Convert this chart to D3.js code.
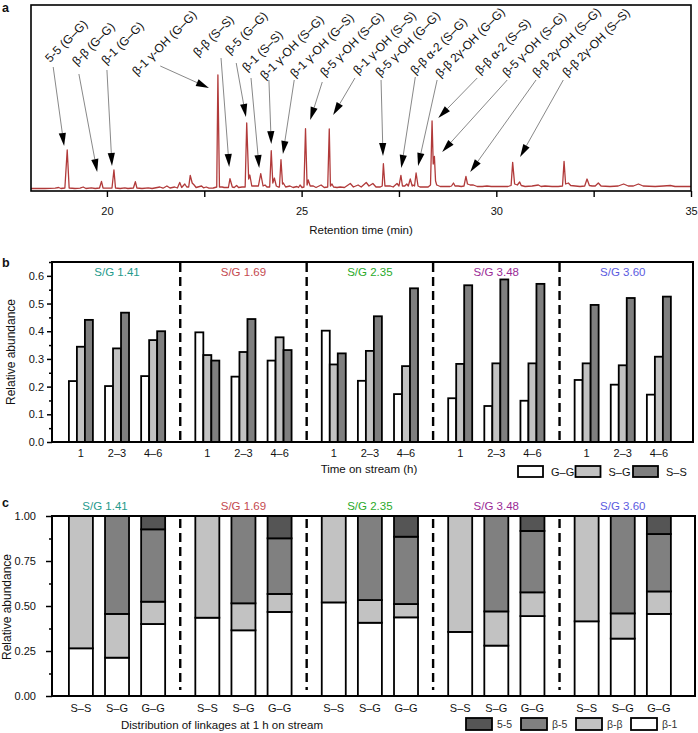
<!DOCTYPE html>
<html><head><meta charset="utf-8">
<script src="https://cdn.jsdelivr.net/npm/d3@7"></script>
<style>
body{margin:0;background:#fff}
text{font-family:"Liberation Sans",Arial,Helvetica,sans-serif;fill:#111}
</style>
</head><body>
<svg id="chart" width="698" height="733"></svg>
<script>
// ---------------- DATA ----------------
// Panel a: chromatogram [retention time (min), intensity]
const trace = [
[18.00,0.5],[18.41,0.5],[18.67,0.8],[18.76,1.5],[18.82,0.5],
[18.92,1],[18.98,39],[19.03,1],
[19.18,0.5],[19.31,0.8],[19.39,2],[19.46,0.5],[19.60,1.2],[19.70,0.5],
[19.81,1],[19.86,7.6],[19.90,1],
[20.03,0.8],[20.13,1],[20.18,19],[20.22,1],
[20.34,0.5],[20.46,1.2],[20.54,0.5],[20.68,1],[20.73,7.3],[20.77,1],
[20.90,0.5],[21.06,1.2],[21.16,0.5],[21.36,2],[21.44,0.8],[21.54,3],[21.62,1],[21.74,2],[21.81,1],[21.87,6.6],[21.92,1.5],[22.00,5],[22.05,2],[22.10,2],[22.14,13.6],[22.19,6],[22.24,4],[22.29,1.5],[22.43,3],[22.48,1.2],[22.55,2],[22.62,0.8],[22.73,1],
[22.82,2],[22.85,114],[22.89,2],[22.96,2],[23.01,1.5],
[23.12,1.5],[23.16,10.3],[23.22,2],[23.27,1.5],[23.33,3.5],[23.38,1.5],[23.47,2],[23.55,2],
[23.59,66],[23.64,10],[23.67,14],[23.72,3],[23.78,3],
[23.89,3],[23.95,15.3],[24.01,3],[24.06,4],[24.11,2],
[24.18,2],[24.22,38.3],[24.26,6],[24.30,11],[24.35,3],[24.40,2],
[24.43,2],[24.47,29.3],[24.51,5],[24.53,6],[24.59,2],
[24.70,3],[24.78,1.5],[24.88,2.5],[24.92,1.5],[24.96,4],[25.01,1.5],
[25.06,2],[25.10,60.3],[25.14,4],[25.17,9],[25.22,3],[25.30,3],[25.37,1.5],[25.50,4],[25.58,1.5],[25.67,2],
[25.71,60],[25.74,3],[25.78,5],[25.82,2],[25.91,1.5],[25.99,2],[26.10,1.5],[26.25,5.5],[26.33,2],[26.45,4],[26.53,2],[26.66,6.5],[26.73,3],[26.83,5.5],[26.91,2],[27.02,2],
[27.07,3],[27.10,25.3],[27.14,3],[27.28,3],[27.35,2],[27.45,5.5],[27.50,3],
[27.55,13.6],[27.59,3],[27.65,3],[27.70,5],[27.74,3],[27.79,10],[27.84,3],[27.86,4],[27.90,3],
[27.94,16],[27.99,3],[28.04,2],[28.12,2],[28.25,2],[28.31,4],
[28.35,68],[28.38,25],[28.41,32.6],[28.44,8],[28.47,4],[28.56,2.5],[28.69,2.5],[28.81,2.5],[28.85,3],[28.90,6],[28.94,3],[29.02,3],[29.10,2.5],[29.17,3],
[29.22,12.6],[29.26,5],[29.33,4],[29.41,4],[29.51,2.5],[29.64,2.5],[29.76,3],[29.87,2.5],[30.10,2.5],[30.30,2.5],[30.38,3.5],
[30.42,26.6],[30.47,5],[30.54,4],[30.60,7],[30.64,3.5],[30.74,2.5],[30.92,3],[31.08,4],[31.15,2.5],[31.25,3],[31.43,2.5],[31.59,2.5],[31.70,3],
[31.74,27.6],[31.78,5],[31.85,6],[31.91,3.5],[32.03,3],[32.15,2.5],[32.27,3],
[32.33,10],[32.39,3.5],[32.46,3],[32.54,3],[32.62,6],[32.69,3],[32.92,2.5],[33.13,3],[33.27,5],[33.39,3],[33.52,3],[33.65,5],[33.77,3],[34.08,2.5],[34.29,3],[34.47,3.5],[34.59,2.5],[35.00,2.5]
];
const retentionTicks = [20,22.5,25,27.5,30,32.5,35];
const peakLabels = ["5-5 (G–G)","β-β (G–G)","β-1 (G–G)","β-1 γ-OH (G–G)","β-β (S–S)","β-5 (G–G)","β-1 (S–S)",
  "β-1 γ-OH (S–G)","β-1 γ-OH (G–S)","β-5 γ-OH (S–G)","β-1 γ-OH (S–S)","β-5 γ-OH (G–G)","β-β α-2 (S–G)",
  "β-β 2γ-OH (G–G)","β-β α-2 (S–S)","β-5 γ-OH (S–G)","β-β 2γ-OH (S–G)","β-β 2γ-OH (S–S)"];
// annotation anchors in data units [time, intensity]
const labelAnchor = [[18.54,126],[19.23,123],[19.98,124],[20.77,113],[22.34,132],[23.16,134],[23.60,117],[24.06,109],[24.83,111],[25.60,112],[26.45,114],[27.02,112],[27.92,114],[28.56,111],[29.58,114],[30.28,112],[31.05,112],[31.82,112]];
const leaderStart = [[18.62,122],[19.28,115],[20.00,119],[21.37,123],[22.93,131],[23.32,126],[23.70,111],[24.16,109],[24.81,109],[25.53,107],[26.37,111],[27.04,109],[27.92,112],[28.48,109],[29.51,111],[30.28,109],[31.02,109],[31.72,109]];
const arrowTip = [[18.90,43],[19.75,17],[20.13,23],[22.62,101],[23.14,22],[23.57,72],[23.91,21],[24.22,45],[24.52,35],[25.22,69],[25.81,74],[27.09,33],[27.56,21],[27.99,23],[28.51,71],[28.61,37],[29.33,17],[30.61,32]];

// Panels b, c
const groups = ["S/G 1.41","S/G 1.69","S/G 2.35","S/G 3.48","S/G 3.60"];
const groupColors = ["#1f9a8c","#c44a50","#2aaa2a","#9a2a96","#5b5be0"];
const streamTimes = ["1","2–3","4–6"];
const dimers = ["G–G","S–G","S–S"];
const dimerFill = ["#ffffff","#c2c2c2","#7f7f7f"];
const abundGG = [[0.220,0.202,0.238],[0.396,0.236,0.294],[0.402,0.221,0.173],[0.158,0.130,0.149],[0.224,0.207,0.171]];
const abundSG = [[0.344,0.338,0.368],[0.314,0.325,0.378],[0.280,0.329,0.274],[0.282,0.284,0.284],[0.284,0.277,0.308]];
const abundSS = [[0.441,0.467,0.400],[0.294,0.444,0.332],[0.320,0.454,0.555],[0.566,0.587,0.571],[0.495,0.520,0.525]];
const bTicks = [0,0.1,0.2,0.3,0.4,0.5,0.6];

const pairs = ["S–S","S–G","G–G"];
const linkages = ["β-1","β-β","β-5","5-5"];
const linkFill = ["#ffffff","#c2c2c2","#808080","#555555"];
const linkB1 = [[0.265,0.213,0.400],[0.435,0.365,0.467],[0.520,0.407,0.437],[0.356,0.280,0.444],[0.415,0.319,0.456]];
const linkBB = [[0.735,0.243,0.124],[0.565,0.150,0.100],[0.480,0.126,0.074],[0.644,0.190,0.132],[0.585,0.140,0.125]];
const linkB5 = [[0,0.544,0.402],[0,0.485,0.309],[0,0.467,0.374],[0,0.530,0.341],[0,0.541,0.319]];
const link55 = [[0,0,0.074],[0,0,0.124],[0,0,0.115],[0,0,0.083],[0,0,0.100]];
const cTicks = [0,0.25,0.5,0.75,1];

// ---------------- DRAW ----------------
const svg = d3.select("#chart");
const FS = 11;

// ===== Panel a =====
const xa = d3.scaleLinear().domain([18.05,35]).range([31,691]);
const ya = d3.scaleLinear().domain([-2,184]).range([191,5]);
svg.append("clipPath").attr("id","clipA").append("rect")
  .attr("x",xa.range()[0]).attr("y",5).attr("width",660).attr("height",186);
svg.append("path").datum(trace)
  .attr("clip-path","url(#clipA)")
  .attr("fill","none").attr("stroke","#b13a3a").attr("stroke-width",1.3).attr("stroke-linejoin","round")
  .attr("d", d3.line().x(d=>xa(d[0])).y(d=>ya(d[1])));
svg.append("rect").attr("x",31).attr("y",5).attr("width",660).attr("height",186)
  .attr("fill","none").attr("stroke","#000").attr("stroke-width",1.6);
const axA = svg.append("g").attr("transform","translate(0,191)")
  .call(d3.axisBottom(xa).tickValues(retentionTicks).tickFormat(d=> d%5===0 ? d : "").tickSize(6).tickPadding(10));
axA.select(".domain").remove();
axA.selectAll("line").attr("stroke","#000").attr("stroke-width",1.4);
axA.selectAll("text").attr("font-size",FS).attr("fill","#111").style("font-family",'"Liberation Sans",Arial,sans-serif');
svg.append("text").attr("x",361).attr("y",234).attr("text-anchor","middle").attr("font-size",11.5).text("Retention time (min)");
svg.append("text").attr("x",2).attr("y",12).attr("font-size",12.5).attr("font-weight","bold").text("a");

// annotations
const ann = svg.append("g");
peakLabels.forEach((lab,i)=>{
  const sx = xa(leaderStart[i][0]), sy = ya(leaderStart[i][1]);
  const tx = xa(arrowTip[i][0]), ty = ya(arrowTip[i][1]);
  const dx = tx-sx, dy = ty-sy, L = Math.hypot(dx,dy);
  const ux = dx/L, uy = dy/L, nx = -uy, ny = ux;
  const hl = 13, hw = 3.6;
  const bx = tx-ux*hl, by = ty-uy*hl;
  ann.append("line").attr("x1",sx).attr("y1",sy).attr("x2",bx).attr("y2",by)
    .attr("stroke","#555").attr("stroke-width",0.7);
  ann.append("path").attr("d",`M${tx},${ty}L${bx+nx*hw},${by+ny*hw}L${bx-nx*hw},${by-ny*hw}Z`).attr("fill","#000");
  const ax = xa(labelAnchor[i][0]), ay = ya(labelAnchor[i][1]);
  ann.append("text").attr("transform",`translate(${ax},${ay}) rotate(-45)`).attr("font-size",12).text(lab);
});

// shared x scale for b and c
const xc = d3.scaleLinear().domain([-0.8,17]).range([52,695]);
const slot = (g,i)=> xc(g*3.5+i);
const sepPos = [1,2,3,4].map(g=> xc(g*3.5-0.75));

// ===== Panel b =====
const yb = d3.scaleLinear().domain([0,0.65]).range([442,262]);
const inner = d3.scaleBand().domain(dimers).range([-12,12]);
const gB = svg.append("g");
const seriesB = [abundGG, abundSG, abundSS];
groups.forEach((grp,g)=>{
  streamTimes.forEach((t,i)=>{
    dimers.forEach((dm,k)=>{
      const v = seriesB[k][g][i];
      gB.append("rect").attr("x", slot(g,i)+inner(dm)).attr("width", inner.bandwidth())
        .attr("y", yb(v)).attr("height", yb(0)-yb(v))
        .attr("fill", dimerFill[k]).attr("stroke","#000").attr("stroke-width",1.8);
    });
    gB.append("text").attr("x", slot(g,i)).attr("y",457).attr("text-anchor","middle").attr("font-size",FS).text(t);
  });
  gB.append("text").attr("x", slot(g,1)).attr("y",276).attr("text-anchor","middle").attr("font-size",11.5)
    .style("fill",groupColors[g]).text(grp);
});
sepPos.forEach(x=> gB.append("line").attr("x1",x).attr("x2",x).attr("y1",263).attr("y2",440)
  .attr("stroke","#000").attr("stroke-width",2.4).attr("stroke-dasharray","9,5"));
gB.append("rect").attr("x",52).attr("y",262).attr("width",641).attr("height",180)
  .attr("fill","none").attr("stroke","#000").attr("stroke-width",2);
const axB = gB.append("g").attr("transform","translate(52,0)")
  .call(d3.axisLeft(yb).tickValues(bTicks).tickFormat(d3.format(".1f")).tickSize(5).tickPadding(3));
axB.select(".domain").remove();
axB.selectAll("line").attr("stroke","#000").attr("stroke-width",1.5);
axB.selectAll("text").attr("font-size",FS).attr("fill","#111").style("font-family",'"Liberation Sans",Arial,sans-serif');
const axBm = gB.append("g").attr("transform","translate(52,0)")
  .call(d3.axisLeft(yb).tickValues(bTicks.map(d=>d+0.05)).tickFormat("").tickSize(3));
axBm.select(".domain").remove();
axBm.selectAll("line").attr("stroke","#000").attr("stroke-width",1.5);
svg.append("text").attr("transform","translate(15,352) rotate(-90)").attr("text-anchor","middle").attr("font-size",12).text("Relative abundance");
svg.append("text").attr("x",369).attr("y",473).attr("text-anchor","middle").attr("font-size",11.5).text("Time on stream (h)");
svg.append("text").attr("x",2).attr("y",267).attr("font-size",12.5).attr("font-weight","bold").text("b");
// legend b
dimers.forEach((dm,k)=>{
  const lx = 518 + k*57.5;
  svg.append("rect").attr("x",lx).attr("y",466).attr("width",25).attr("height",11)
    .attr("fill",dimerFill[k]).attr("stroke","#000").attr("stroke-width",1.8);
  svg.append("text").attr("x",lx+33).attr("y",476).attr("font-size",FS).text(dm);
});

// ===== Panel c =====
const yc = d3.scaleLinear().domain([0,1]).range([696,516]);
const gC = svg.append("g");
const seriesC = [linkB1, linkBB, linkB5, link55];
const cLabelShift = [-12,0,0,0,0];
groups.forEach((grp,g)=>{
  pairs.forEach((p,i)=>{
    const row = {}; linkages.forEach((lk,k)=> row[lk] = seriesC[k][g][i]);
    const st = d3.stack().keys(linkages)([row]);
    st.forEach((layer,k)=>{
      const [y0,y1] = layer[0];
      if (y1-y0 <= 0) return;
      gC.append("rect").attr("x", slot(g,i)-12).attr("width",24)
        .attr("y", yc(y1)).attr("height", yc(y0)-yc(y1))
        .attr("fill", linkFill[k]).attr("stroke","#000").attr("stroke-width",1.8);
    });
    gC.append("text").attr("x", slot(g,i)).attr("y",712).attr("text-anchor","middle").attr("font-size",FS).text(p);
  });
  gC.append("text").attr("x", slot(g,1)+cLabelShift[g]).attr("y",510).attr("text-anchor","middle").attr("font-size",11.5)
    .style("fill",groupColors[g]).text(grp);
});
sepPos.forEach(x=> gC.append("line").attr("x1",x).attr("x2",x).attr("y1",519).attr("y2",690)
  .attr("stroke","#000").attr("stroke-width",2.4).attr("stroke-dasharray","9,5"));
gC.append("rect").attr("x",52).attr("y",516).attr("width",643).attr("height",180)
  .attr("fill","none").attr("stroke","#000").attr("stroke-width",2);
const axC = gC.append("g").attr("transform","translate(52,0)")
  .call(d3.axisLeft(yc).tickValues(cTicks).tickFormat(d3.format(".2f")).tickSize(6).tickPadding(10));
axC.select(".domain").remove();
axC.selectAll("line").attr("stroke","#000").attr("stroke-width",1.5);
axC.selectAll("text").attr("font-size",FS).attr("fill","#111").style("font-family",'"Liberation Sans",Arial,sans-serif');
const axCm = gC.append("g").attr("transform","translate(52,0)")
  .call(d3.axisLeft(yc).tickValues([0.125,0.375,0.625,0.875]).tickFormat("").tickSize(3));
axCm.select(".domain").remove();
axCm.selectAll("line").attr("stroke","#000").attr("stroke-width",1.5);
svg.append("text").attr("transform","translate(11,607) rotate(-90)").attr("text-anchor","middle").attr("font-size",12).text("Relative abundance");
svg.append("text").attr("x",222).attr("y",729).attr("text-anchor","middle").attr("font-size",11.5).text("Distribution of linkages at 1 h on stream");
svg.append("text").attr("x",2).attr("y",507).attr("font-size",12.5).attr("font-weight","bold").text("c");
// legend c (order 5-5, β-5, β-β, β-1)
[3,2,1,0].forEach((k,j)=>{
  const lx = 466 + j*55;
  svg.append("rect").attr("x",lx).attr("y",718).attr("width",26).attr("height",12)
    .attr("fill",linkFill[k]).attr("stroke","#000").attr("stroke-width",1.8);
  svg.append("text").attr("x",lx+31).attr("y",728).attr("font-size",10.5).style("fill","#333").text(linkages[k]);
});
</script>
</body></html>
